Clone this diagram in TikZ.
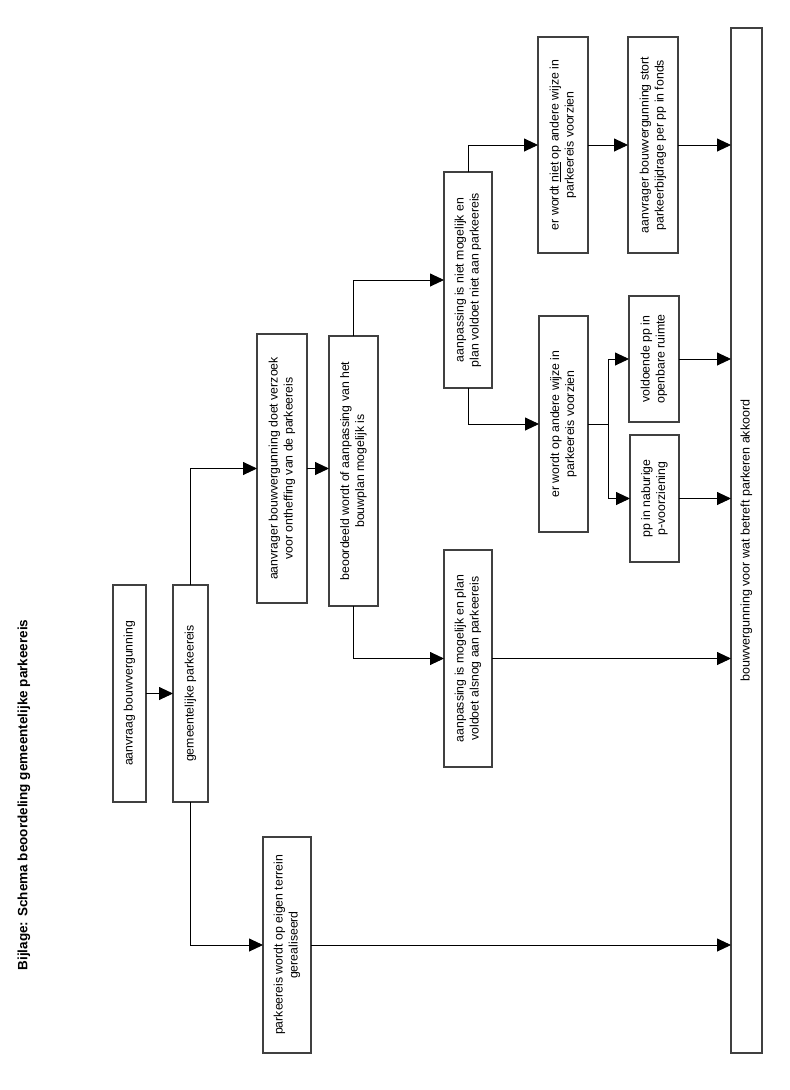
\documentclass[tikz,border=0pt]{standalone}
\usepackage{fontspec}
\setmainfont{Liberation Sans}
\usetikzlibrary{arrows.meta}
\begin{document}
\begin{tikzpicture}[x=1pt,y=-1pt,
  box/.style={draw=black!75, line width=1.1pt, fill=white, inner sep=0pt, outer sep=0pt,
    font=\fontsize{12.3}{15}\selectfont},
  conn/.style={draw=black, line width=0.9pt},
  arr/.style={conn, -{Triangle[length=14pt,width=13pt]}}]
\useasboundingbox[fill=white] (0,0) rectangle (790,1090);
\newcommand{\rt}[1]{\rotatebox{90}{\begin{tabular}{@{}c@{}}#1\end{tabular}}}
% title
\node[rotate=90, font=\bfseries\fontsize{13.5}{16}\selectfont] (title) at (24,795)
  {Bijlage: Schema beoordeling gemeentelijke parkeereis};
% boxes
\node[box, minimum width=33pt, minimum height=217pt] (b1) at (129.5,693.5) {\rt{aanvraag bouwvergunning}};
\node[box, minimum width=35pt, minimum height=217pt] (b2) at (190.5,693.5) {\rt{gemeentelijke parkeereis}};
\node[box, minimum width=50pt, minimum height=269pt] (b3) at (282,468.5) {\rt{aanvrager bouwvergunning doet verzoek\\voor ontheffing van de parkeereis}};
\node[box, minimum width=49pt, minimum height=270pt] (b4) at (353.5,471) {\rt{beoordeeld wordt of aanpassing van het\\bouwplan mogelijk is}};
\node[box, minimum width=48pt, minimum height=216pt] (b5) at (468,280) {\rt{aanpassing is niet mogelijk en\\plan voldoet niet aan parkeereis}};
\node[box, minimum width=48pt, minimum height=217pt] (b6) at (468,658.5) {\rt{aanpassing is mogelijk en plan\\voldoet alsnog aan parkeereis}};
\node[box, minimum width=50pt, minimum height=216pt] (b7) at (563,145) {\rt{er wordt \underline{niet} op andere wijze in\\parkeereis voorzien}};
\node[box, minimum width=49pt, minimum height=216pt] (b8) at (563.5,424) {\rt{er wordt op andere wijze in\\parkeereis voorzien}};
\node[box, minimum width=50pt, minimum height=216pt] (b9) at (653,145) {\rt{aanvrager bouwvergunning stort\\parkeerbijdrage per pp in fonds}};
\node[box, minimum width=50pt, minimum height=126pt] (b10) at (654,359) {\rt{voldoende pp in\\openbare ruimte}};
\node[box, minimum width=49pt, minimum height=127pt] (b11) at (654.5,498.5) {\rt{pp in naburige\\p-voorziening}};
\node[box, minimum width=31pt, minimum height=1025pt, font=\fontsize{12.5}{15}\selectfont] (b12) at (746.5,540.5) {\rt{bouwvergunning voor wat betreft parkeren akkoord}};
\node[box, minimum width=48pt, minimum height=216pt] (b13) at (287,945) {\rt{parkeereis wordt op eigen terrein\\gerealiseerd}};
% connectors
\draw[arr] (b1.east) -- (b2.west);
\draw[arr] (b2.north) |- (b3.west);
\draw[arr] (b2.south) |- (b13.west);
\draw[arr] (b3.east) -- (b4.west |- b3.east);
\draw[arr] (b4.north) |- (b5.west);
\draw[arr] (b4.south) |- (b6.west);
\draw[arr] (b5.north) |- (b7.west);
\draw[arr] (b5.south) |- (b8.west);
\draw[arr] (b7.east) -- (b9.west);
\coordinate (split) at (608,424);
\draw[conn] (b8.east) -- (split);
\draw[arr] (split) |- (b10.west);
\draw[arr] (split) |- (b11.west);
\draw[arr] (b9.east) -- (b9.east -| b12.west);
\draw[arr] (b10.east) -- (b10.east -| b12.west);
\draw[arr] (b11.east) -- (b11.east -| b12.west);
\draw[arr] (b6.east) -- (b6.east -| b12.west);
\draw[arr] (b13.east) -- (b13.east -| b12.west);
\end{tikzpicture}
\end{document}
